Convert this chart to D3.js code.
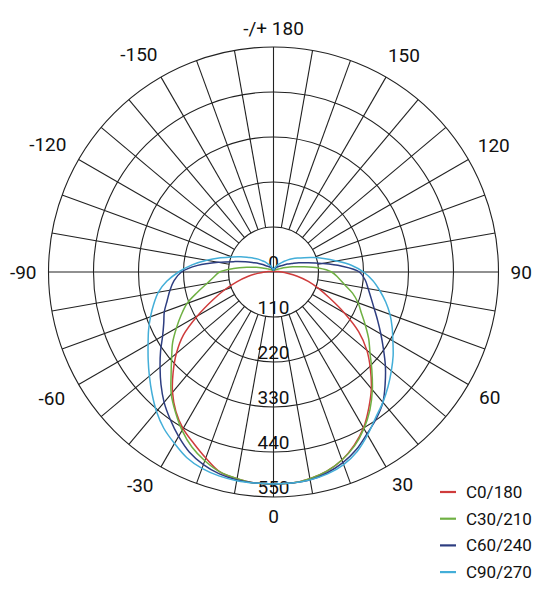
<!DOCTYPE html>
<html><head><meta charset="utf-8">
<script src="https://cdn.jsdelivr.net/npm/d3@7"></script>
<style>body{margin:0;background:#fff}svg{display:block}text{font-family:Roboto,"DejaVu Sans",sans-serif;fill:#111}</style>
</head><body>
<svg id="chart" width="556" height="600"></svg>
<script>
// gamma angles (deg) shared by all series
const gammaAngles = [0,5,10,15,20,25,30,35,40,45,50,55,60,65,70,75,80,85,90,95,100,105,110,115,120,125,130,135,140,145,150,155,160,165,170,175,180];
// luminous intensity (cd/klm) per C-plane half
const c0   = [518,518,513,504,489,467,440,406,372,335,298,254,200,152,117,88,59,34,20,12,7,5,3,2,2,2,2,2,2,2,2,2,2,2,2,2,2];
const c180 = [518,518,513,506,484,462,442,416,384,347,310,269,215,166,127,93,64,39,22,12,7,5,3,2,2,2,2,2,2,2,2,2,2,2,2,2,2];
const c30  = [518,518,513,504,489,469,442,411,376,340,308,284,259,237,220,200,176,159,142,110,73,49,32,22,15,12,10,7,7,5,5,5,5,5,5,5,5];
const c210 = [518,518,513,506,491,472,447,418,389,354,325,301,274,249,225,193,166,147,132,98,66,44,29,20,15,12,10,7,7,5,5,5,5,5,5,5,5];
const c60  = [518,518,516,508,496,479,457,438,416,386,357,328,303,281,262,247,235,225,210,166,120,88,66,49,39,29,24,20,17,15,12,10,7,7,5,5,2];
const c240 = [518,518,516,511,501,486,464,440,416,389,362,337,313,296,284,269,257,244,225,186,137,98,73,54,42,32,24,20,17,15,12,10,7,7,5,5,2];
const c90  = [518,518,516,511,501,484,460,435,416,396,376,357,337,320,303,284,264,244,220,191,156,127,103,83,68,56,46,37,29,24,20,15,12,10,7,5,5];
const c270 = [518,518,518,516,511,501,484,467,445,420,396,374,354,337,320,303,286,262,232,200,166,134,108,88,71,59,49,39,32,24,20,15,12,10,7,5,5];

const seriesNames  = ["C0/180","C30/210","C60/240","C90/270"];
const seriesColors = ["#cf3b3b","#6fb043","#2d3d80","#43aed8"];
const rightHalves = [c0, c30, c60, c90];
const leftHalves  = [c180, c210, c240, c270];

const ringValues = [110,220,330,440,550];
const radialLabels = ["0","110","220","330","440","550"];
const radialLabelValues = [0,110,220,330,440,550];
const angleTicks = [0,30,60,90,120,150,180,-150,-120,-90,-60,-30];
const angleTickLabels = ["0","30","60","90","120","150","-/+ 180","-150","-120","-90","-60","-30"];
const spokeAngles = d3.range(0,360,10);

const cx = 273.5, cy = 272, R = 225;
const svg = d3.select("#chart");
const g = svg.append("g").attr("transform",`translate(${cx},${cy})`);
const r = d3.scaleLinear().domain([0,550]).range([0,R]);

const pos = (gam, rad) => [rad*Math.sin(gam*Math.PI/180), rad*Math.cos(gam*Math.PI/180)];

// rings
g.selectAll("circle.ring").data(ringValues).join("circle")
  .attr("r", d=>r(d)).attr("fill","none").attr("stroke","#222").attr("stroke-width",1.1);

// spokes
g.selectAll("line.spoke").data(spokeAngles).join("line")
  .attr("x1", d=> pos(d, d%90===0?0:r(110))[0])
  .attr("y1", d=> pos(d, d%90===0?0:r(110))[1])
  .attr("x2", d=> pos(d, r(550))[0])
  .attr("y2", d=> pos(d, r(550))[1])
  .attr("stroke","#222").attr("stroke-width",1.1);

// radial labels
g.selectAll("text.rl").data(radialLabelValues).join("text")
  .attr("x",0).attr("y", d=> r(d)-3.5)
  .attr("text-anchor","middle").attr("font-size",19)
  .text((d,i)=>radialLabels[i]);

// angle labels
const fs = 19;
angleTicks.forEach((a,i)=>{
  const txt = angleTickLabels[i];
  const t = g.append("text").attr("font-size",fs).attr("text-anchor","middle").attr("dominant-baseline","central").text(txt);
  const bb = t.node().getBBox();
  const ux = Math.sin(a*Math.PI/180), uy = Math.cos(a*Math.PI/180);
  const ext = (bb.width/2)*Math.abs(ux) + (fs*0.36)*Math.abs(uy);
  const rr = R + 12 + ext;
  const sx = Math.sign(Math.round(ux*1000));
  const steep = Math.max(0, (Math.abs(uy)-0.6)/0.266);
  let xoff = sx*5*Math.min(1,steep);
  if (a < 0 && a !== -90) xoff += sx*3.5;
  const yoff = (uy>0.6 && sx!==0) ? -3 : 0;
  t.attr("x", rr*ux + xoff).attr("y", rr*uy + 0.5 + yoff);
});

// curves
const line = d3.lineRadial()
  .angle(d=>d[0]).radius(d=>r(d[1]))
  .curve(d3.curveCatmullRom.alpha(0.5));

seriesNames.forEach((name,i)=>{
  const pts = [];
  for (let k=gammaAngles.length-1;k>=0;k--) pts.push([Math.PI - gammaAngles[k]*Math.PI/180, rightHalves[i][k]]);
  for (let k=1;k<gammaAngles.length;k++) pts.push([Math.PI + gammaAngles[k]*Math.PI/180, leftHalves[i][k]]);
  g.append("path").attr("d", line(pts)).attr("fill","none")
   .attr("stroke", seriesColors[i]).attr("stroke-width",1.5).attr("stroke-linejoin","round");
});

// legend
const leg = svg.append("g");
seriesNames.forEach((name,i)=>{
  const y = 492 + i*26.7;
  leg.append("line").attr("x1",440).attr("x2",456).attr("y1",y).attr("y2",y)
    .attr("stroke",seriesColors[i]).attr("stroke-width",2.2);
  leg.append("text").attr("x",466).attr("y",y).attr("dominant-baseline","central")
    .attr("font-size",17).text(name);
});
</script>
</body></html>
